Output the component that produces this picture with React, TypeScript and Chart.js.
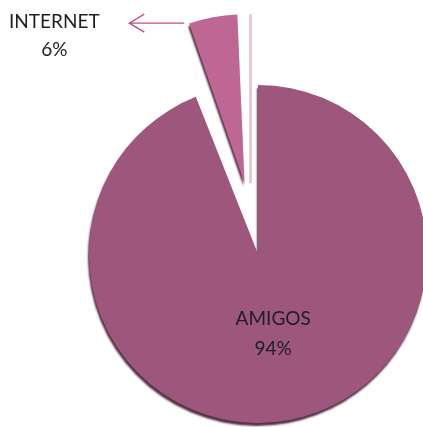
import React, { useEffect, useRef } from "react";
import { Chart, registerables } from "chart.js";

Chart.register(...registerables);

const categories = ["AMIGOS", "INTERNET"];
const values = [94, 6];
const percentLabels = ["94%", "6%"];
const sliceColors = ["#9D567C", "#BE6694"];
// displacement in pixels of each slice from the pie centre
const sliceOffsets = [0, 72];

const FONT = "19px Lato, 'Open Sans', sans-serif";
const TEXT_COLOR = "#1E1E24";

// Chart.js enlarges an exploded arc's radius by offset*(1-sin(circumference)); undo that
const radiusFix = (arc: any) => {
  const off = (arc.options.offset || 0) / 4;
  const circ = arc.circumference ?? arc.endAngle - arc.startAngle;
  return off * (1 - Math.sin(Math.min(Math.PI, circ || 0)));
};

const piePlugin = {
  id: "pieDecor",
  afterDatasetsUpdate(chart: any) {
    const meta = chart.getDatasetMeta(0);
    meta.data.forEach((arc: any) => {
      arc.outerRadius = arc.outerRadius - radiusFix(arc);
    });
  },
  beforeDatasetsDraw(chart: any) {
    const ctx = chart.ctx;
    ctx.save();
    ctx.shadowColor = "rgba(55,12,38,0.85)";
    ctx.shadowOffsetX = -1;
    ctx.shadowOffsetY = 3;
    ctx.shadowBlur = 2;
  },
  afterDatasetsDraw(chart: any) {
    const ctx = chart.ctx;
    ctx.restore();
    const meta = chart.getDatasetMeta(0);
    meta.data.forEach((arc: any, i: number) => {
      const p = arc.getProps(["x", "y", "startAngle", "endAngle", "outerRadius"], true);
      const off = (arc.options.offset || 0) / 4;
      const mid = (p.startAngle + p.endAngle) / 2;
      const cx = p.x + Math.cos(mid) * off;
      const cy = p.y + Math.sin(mid) * off;
      const r = p.outerRadius + radiusFix(arc);
      ctx.save();
      ctx.font = FONT;
      ctx.fillStyle = TEXT_COLOR;
      ctx.textAlign = "center";
      ctx.textBaseline = "middle";
      if (i === 0) {
        const lx = cx + Math.cos(mid) * r * 0.48;
        const ly = cy + Math.sin(mid) * r * 0.48;
        ctx.fillText(categories[i], lx, ly - 15);
        ctx.fillText(percentLabels[i], lx, ly + 15);
      } else {
        // side face of exploded slice
        ctx.strokeStyle = "#E6CAD8";
        ctx.lineWidth = 3;
        ctx.beginPath();
        ctx.moveTo(cx + 6, cy);
        ctx.lineTo(cx + 6, cy - r);
        ctx.stroke();
        // leader arrow
        const kx = cx + Math.cos(p.startAngle) * r + 2;
        const ky = cy + Math.sin(p.startAngle) * r - 3;
        const ax = kx - 55;
        ctx.strokeStyle = "#C0507F";
        ctx.lineWidth = 1.3;
        ctx.beginPath();
        ctx.moveTo(kx, ky);
        ctx.lineTo(ax, ky);
        ctx.moveTo(ax + 15, ky - 9);
        ctx.lineTo(ax, ky);
        ctx.lineTo(ax + 15, ky + 9);
        ctx.stroke();
        const tx = ax - 75;
        ctx.fillText(categories[i], tx, ky - 1);
        ctx.fillText(percentLabels[i], tx, ky + 27);
      }
      ctx.restore();
    });
  },
};

export default function App() {
  const ref = useRef<HTMLCanvasElement>(null);
  useEffect(() => {
    if (!ref.current) return;
    const chart = new Chart(ref.current, {
      type: "pie",
      data: {
        labels: categories,
        datasets: [
          {
            data: values,
            backgroundColor: sliceColors,
            borderWidth: 0,
            offset: sliceOffsets.map((o) => o * 4),
            radius: 169,
            clip: false,
          } as any,
        ],
      },
      options: {
        responsive: false,
        animation: false,
        events: [],
        layout: { padding: { left: 93, right: 0, top: 81, bottom: 0 } },
        plugins: {
          legend: { display: false },
          tooltip: { enabled: false },
        },
      },
      plugins: [piePlugin],
    });
    return () => chart.destroy();
  }, []);
  return (
    <div style={{ position: "fixed", left: 0, top: 0, width: 423, height: 427, background: "#fff" }}>
      <canvas ref={ref} width={423} height={427} style={{ display: "block" }} />
    </div>
  );
}
